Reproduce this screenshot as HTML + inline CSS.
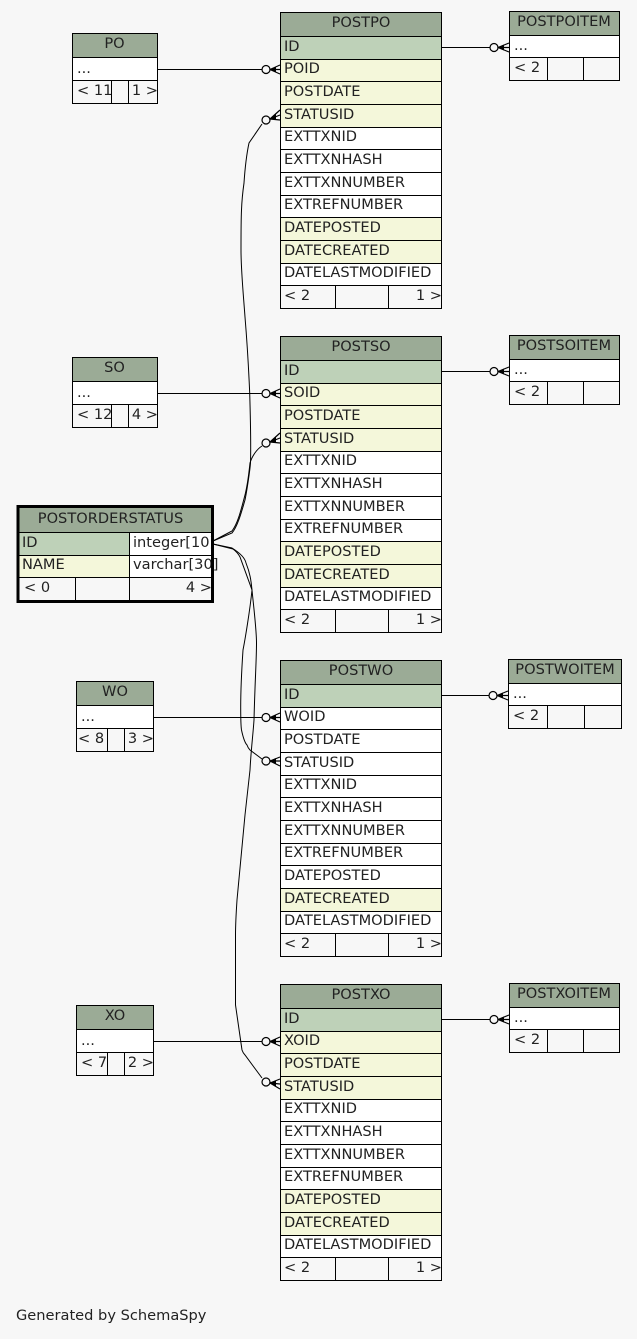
<!DOCTYPE html>
<html><head><meta charset="utf-8"><style>
html,body{margin:0;padding:0;background:#f7f7f7;width:637px;height:1339px;overflow:hidden}
svg{display:block}
text{font-family:"DejaVu Sans","Liberation Sans",sans-serif;font-size:14.6px;fill:#222}
.m{text-anchor:middle}.e{text-anchor:end}
.h{fill:#9bab96}.i{fill:#bed1b8}.y{fill:#f4f7da}.w{fill:#fff}
.l{stroke:#000;stroke-width:1;fill:none}
.c{stroke:#000;stroke-width:1;fill:none}
.o{stroke:#000;stroke-width:1.2;fill:#f7f7f7}
.f{stroke:#000;stroke-width:1.2;fill:none}
</style></head><body>
<svg xmlns="http://www.w3.org/2000/svg" width="637" height="1339" viewBox="0 0 637 1339">
<rect width="637" height="1339" fill="#f7f7f7"/>

<!-- POSTPO -->
<g>
<rect class="h" x="280" y="12" width="162" height="24"/><rect class="i" x="280" y="36" width="162" height="23"/>
<rect class="y" x="280" y="59" width="162" height="68"/><rect class="w" x="280" y="127" width="162" height="90"/>
<rect class="y" x="280" y="217" width="162" height="46"/><rect class="w" x="280" y="263" width="162" height="22"/>
<path class="l" d="M280.5 12.5H441.5V308.5H280.5ZM280 36.5H442M280 59.5H442M280 81.5H442M280 104.5H442M280 127.5H442M280 149.5H442M280 172.5H442M280 195.5H442M280 217.5H442M280 240.5H442M280 263.5H442M280 285.5H442M335.5 285V308M388.5 285V308"/>
<text class="m" x="361" y="27">POSTPO</text><text x="284" y="51">ID</text><text x="284" y="73">POID</text><text x="284" y="96">POSTDATE</text><text x="284" y="119">STATUSID</text><text x="284" y="141">EXTTXNID</text><text x="284" y="164">EXTTXNHASH</text><text x="284" y="187">EXTTXNNUMBER</text><text x="284" y="209">EXTREFNUMBER</text><text x="284" y="232">DATEPOSTED</text><text x="284" y="255">DATECREATED</text><text x="284" y="277">DATELASTMODIFIED</text><text x="284" y="300">&lt; 2</text><text class="e" x="442" y="300">1 &gt;</text>
</g>

<!-- POSTSO -->
<g transform="translate(0,324)">
<rect class="h" x="280" y="12" width="162" height="24"/><rect class="i" x="280" y="36" width="162" height="23"/>
<rect class="y" x="280" y="59" width="162" height="68"/><rect class="w" x="280" y="127" width="162" height="90"/>
<rect class="y" x="280" y="217" width="162" height="46"/><rect class="w" x="280" y="263" width="162" height="22"/>
<path class="l" d="M280.5 12.5H441.5V308.5H280.5ZM280 36.5H442M280 59.5H442M280 81.5H442M280 104.5H442M280 127.5H442M280 149.5H442M280 172.5H442M280 195.5H442M280 217.5H442M280 240.5H442M280 263.5H442M280 285.5H442M335.5 285V308M388.5 285V308"/>
<text class="m" x="361" y="27">POSTSO</text><text x="284" y="51">ID</text><text x="284" y="73">SOID</text><text x="284" y="96">POSTDATE</text><text x="284" y="119">STATUSID</text><text x="284" y="141">EXTTXNID</text><text x="284" y="164">EXTTXNHASH</text><text x="284" y="187">EXTTXNNUMBER</text><text x="284" y="209">EXTREFNUMBER</text><text x="284" y="232">DATEPOSTED</text><text x="284" y="255">DATECREATED</text><text x="284" y="277">DATELASTMODIFIED</text><text x="284" y="300">&lt; 2</text><text class="e" x="442" y="300">1 &gt;</text>
</g>

<!-- POSTWO -->
<g transform="translate(0,648)">
<rect class="h" x="280" y="12" width="162" height="24"/><rect class="i" x="280" y="36" width="162" height="23"/>
<rect class="w" x="280" y="59" width="162" height="181"/>
<rect class="y" x="280" y="240" width="162" height="23"/><rect class="w" x="280" y="263" width="162" height="22"/>
<path class="l" d="M280.5 12.5H441.5V308.5H280.5ZM280 36.5H442M280 59.5H442M280 81.5H442M280 104.5H442M280 127.5H442M280 149.5H442M280 172.5H442M280 195.5H442M280 217.5H442M280 240.5H442M280 263.5H442M280 285.5H442M335.5 285V308M388.5 285V308"/>
<text class="m" x="361" y="27">POSTWO</text><text x="284" y="51">ID</text><text x="284" y="73">WOID</text><text x="284" y="96">POSTDATE</text><text x="284" y="119">STATUSID</text><text x="284" y="141">EXTTXNID</text><text x="284" y="164">EXTTXNHASH</text><text x="284" y="187">EXTTXNNUMBER</text><text x="284" y="209">EXTREFNUMBER</text><text x="284" y="232">DATEPOSTED</text><text x="284" y="255">DATECREATED</text><text x="284" y="277">DATELASTMODIFIED</text><text x="284" y="300">&lt; 2</text><text class="e" x="442" y="300">1 &gt;</text>
</g>

<!-- POSTXO -->
<g transform="translate(0,972)">
<rect class="h" x="280" y="12" width="162" height="24"/><rect class="i" x="280" y="36" width="162" height="23"/>
<rect class="y" x="280" y="59" width="162" height="68"/><rect class="w" x="280" y="127" width="162" height="90"/>
<rect class="y" x="280" y="217" width="162" height="46"/><rect class="w" x="280" y="263" width="162" height="22"/>
<path class="l" d="M280.5 12.5H441.5V308.5H280.5ZM280 36.5H442M280 59.5H442M280 81.5H442M280 104.5H442M280 127.5H442M280 149.5H442M280 172.5H442M280 195.5H442M280 217.5H442M280 240.5H442M280 263.5H442M280 285.5H442M335.5 285V308M388.5 285V308"/>
<text class="m" x="361" y="27">POSTXO</text><text x="284" y="51">ID</text><text x="284" y="73">XOID</text><text x="284" y="96">POSTDATE</text><text x="284" y="119">STATUSID</text><text x="284" y="141">EXTTXNID</text><text x="284" y="164">EXTTXNHASH</text><text x="284" y="187">EXTTXNNUMBER</text><text x="284" y="209">EXTREFNUMBER</text><text x="284" y="232">DATEPOSTED</text><text x="284" y="255">DATECREATED</text><text x="284" y="277">DATELASTMODIFIED</text><text x="284" y="300">&lt; 2</text><text class="e" x="442" y="300">1 &gt;</text>
</g>

<!-- item tables -->
<g>
<rect class="h" x="509" y="11" width="111" height="24"/><rect class="w" x="509" y="35" width="111" height="22"/>
<path class="l" d="M509.5 11.5H619.5V80.5H509.5ZM509 35.5H620M509 57.5H620M547.5 57V80M583.5 57V80"/>
<text class="m" x="564" y="26">POSTPOITEM</text><text x="514" y="50">...</text><text x="514" y="72">&lt; 2</text>
</g>
<g transform="translate(0,324)">
<rect class="h" x="509" y="11" width="111" height="24"/><rect class="w" x="509" y="35" width="111" height="22"/>
<path class="l" d="M509.5 11.5H619.5V80.5H509.5ZM509 35.5H620M509 57.5H620M547.5 57V80M583.5 57V80"/>
<text class="m" x="564" y="26">POSTSOITEM</text><text x="514" y="50">...</text><text x="514" y="72">&lt; 2</text>
</g>
<g>
<rect class="h" x="508" y="659" width="114" height="24"/><rect class="w" x="508" y="683" width="114" height="22"/>
<path class="l" d="M508.5 659.5H621.5V728.5H508.5ZM508 683.5H622M508 705.5H622M547.5 705V728M584.5 705V728"/>
<text class="m" x="565" y="674">POSTWOITEM</text><text x="513" y="698">...</text><text x="513" y="720">&lt; 2</text>
</g>
<g transform="translate(0,972)">
<rect class="h" x="509" y="11" width="111" height="24"/><rect class="w" x="509" y="35" width="111" height="22"/>
<path class="l" d="M509.5 11.5H619.5V80.5H509.5ZM509 35.5H620M509 57.5H620M547.5 57V80M583.5 57V80"/>
<text class="m" x="564" y="26">POSTXOITEM</text><text x="514" y="50">...</text><text x="514" y="72">&lt; 2</text>
</g>

<!-- PO / SO / WO / XO -->
<g>
<rect class="h" x="72" y="33" width="86" height="24"/><rect class="w" x="72" y="57" width="86" height="23"/>
<path class="l" d="M72.5 33.5H157.5V103.5H72.5ZM72 57.5H158M72 80.5H158M111.5 80V103M128.5 80V103"/>
<text class="m" x="114.5" y="48">PO</text><text x="77" y="73">...</text><text x="77" y="95">&lt; 11</text><text class="e" x="158" y="95">1 &gt;</text>
</g>
<g transform="translate(0,324)">
<rect class="h" x="72" y="33" width="86" height="24"/><rect class="w" x="72" y="57" width="86" height="23"/>
<path class="l" d="M72.5 33.5H157.5V103.5H72.5ZM72 57.5H158M72 80.5H158M111.5 80V103M128.5 80V103"/>
<text class="m" x="114.5" y="48">SO</text><text x="77" y="73">...</text><text x="77" y="95">&lt; 12</text><text class="e" x="158" y="95">4 &gt;</text>
</g>
<g>
<rect class="h" x="76" y="681" width="78" height="24"/><rect class="w" x="76" y="705" width="78" height="23"/>
<path class="l" d="M76.5 681.5H153.5V751.5H76.5ZM76 705.5H154M76 728.5H154M107.5 728V751M124.5 728V751"/>
<text class="m" x="115" y="696">WO</text><text x="81" y="721">...</text><text x="78" y="743">&lt; 8</text><text class="e" x="154" y="743">3 &gt;</text>
</g>
<g transform="translate(0,324)">
<rect class="h" x="76" y="681" width="78" height="24"/><rect class="w" x="76" y="705" width="78" height="23"/>
<path class="l" d="M76.5 681.5H153.5V751.5H76.5ZM76 705.5H154M76 728.5H154M107.5 728V751M124.5 728V751"/>
<text class="m" x="115" y="696">XO</text><text x="81" y="721">...</text><text x="81" y="743">&lt; 7</text><text class="e" x="154" y="743">2 &gt;</text>
</g>

<!-- POSTORDERSTATUS -->
<g>
<rect class="h" x="19" y="507" width="193" height="25"/><rect class="i" x="19" y="532" width="111" height="23"/><rect class="y" x="19" y="555" width="111" height="22"/><rect class="w" x="130" y="532" width="82" height="45"/>
<path class="l" d="M19 532.5H212M19 555.5H212M19 577.5H212M129.5 532V600M75.5 577V600"/>
<text class="m" x="110.5" y="523">POSTORDERSTATUS</text><text x="22" y="547">ID</text><text x="22" y="569">NAME</text><text x="133" y="547">integer[10]</text><text x="133" y="569">varchar[30]</text><text x="24" y="592">&lt; 0</text><text class="e" x="212" y="592">4 &gt;</text>
<rect x="18" y="506.5" width="194.5" height="95" fill="none" stroke="#000" stroke-width="3"/>
</g>

<!-- straight edges -->
<path class="c" d="M157 69.5H262M157 393.5H262M153 717.5H262M153 1041.5H262M441 47.5H490M441 371.5H490M441 695.5H489M441 1019.5H490"/>

<!-- curved edges -->
<path class="c" d="M213 541L232 533C238 526 242 510 245 500C247 490 250 470 250.5 463C251 445 250.5 420 249.7 393C248.5 365 246.5 335 245 317C243 290 241 270 241 250C241 230 241 220 241.5 210C242 197 243 190 244 183C245 168 246 157 249 143L262 124"/>
<path class="c" d="M213 541L232 531C238 523 241 510 245 495C248 483 249 472 250 463C252 456 257 449 262 446"/>
<path class="c" d="M213 544L233 549C237 552 239 555 240 557L252 590C250 610 245 640 243 650C242 665 240.7 690 240.7 707C240.7 720 241 727 241.5 730C243 737 245 743 247 745C248 748 249 749 250 750L262 759"/>
<path class="c" d="M213 544L232 548C240 553 245 558 246 563C250 573 251 580 252 590C254 610 256.5 630 256.5 643C256.5 660 255 680 254 720C253 735 251 750 250 770L245 815L237 900C236 915 235.5 925 235.5 935V1005L242 1050C243 1053 244 1054 245 1055L262 1078"/>

<!-- circles -->
<circle class="o" cx="266" cy="69.5" r="4"/><circle class="o" cx="266" cy="393.5" r="4"/><circle class="o" cx="266" cy="717.5" r="4"/><circle class="o" cx="266" cy="1041.5" r="4"/>
<circle class="o" cx="494" cy="47.5" r="4"/><circle class="o" cx="494" cy="371.5" r="4"/><circle class="o" cx="493" cy="695.5" r="4"/><circle class="o" cx="494" cy="1019.5" r="4"/>
<circle class="o" cx="266" cy="120" r="4"/><circle class="o" cx="266" cy="443" r="4"/><circle class="o" cx="266" cy="761" r="4"/><circle class="o" cx="266" cy="1082" r="4"/>

<!-- crow's feet -->
<path class="f" d="M270 69.5L280 65M270 69.5H280M270 69.5L280 74M270 393.5L280 389M270 393.5H280M270 393.5L280 398M270 717.5L280 713M270 717.5H280M270 717.5L280 722M270 1041.5L280 1037M270 1041.5H280M270 1041.5L280 1046"/>
<path class="f" d="M498 47.5L509 43M498 47.5H509M498 47.5L509 52M498 371.5L509 367M498 371.5H509M498 371.5L509 376M497 695.5L508 691M497 695.5H508M497 695.5L508 700M498 1019.5L509 1015M498 1019.5H509M498 1019.5L509 1024"/>
<path class="f" d="M270 119L280 110M270 119L280 115M270 119L280 120M270 442L280 433M270 442L280 438M270 442L280 443M270 761L280 757M270 761H280M270 761L280 766M270 1083L280 1079M270 1083L280 1084M270 1083L280 1089"/>
<path fill="#000" d="M269 69.5L276 66.5V72.5ZM269 393.5L276 390.5V396.5ZM269 717.5L276 714.5V720.5ZM269 1041.5L276 1038.5V1044.5ZM497 47.5L504 44.5V50.5ZM497 371.5L504 368.5V374.5ZM496 695.5L503 692.5V698.5ZM497 1019.5L504 1016.5V1022.5ZM269 119.500L276 113V119ZM269 442.500L276 436V442ZM269 761L276 758V764ZM269 1083L276 1080.500V1086.500Z"/>

<text x="16" y="1320">Generated by SchemaSpy</text>
</svg>
</body></html>
